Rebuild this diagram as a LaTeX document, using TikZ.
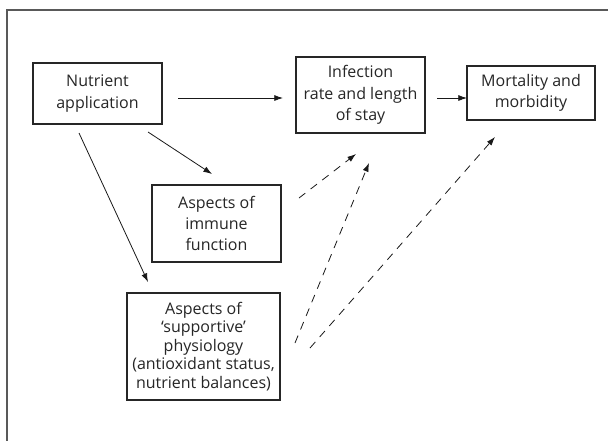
\documentclass[tikz,border=0pt]{standalone}
\usepackage{fontspec}
\setmainfont{Open Sans}
\usetikzlibrary{arrows.meta}
\begin{document}
\begin{tikzpicture}[x=0.75pt,y=-0.75pt,
  box/.style={draw=black!85, line width=0.8pt, rectangle, inner sep=0pt, align=center,
    font=\fontsize{12}{16}\selectfont, text=black!85},
  arr/.style={line width=0.6pt, black!90, -{Latex[length=6.5pt,width=4.5pt]}},
  darr/.style={arr, dash pattern=on 6pt off 5pt}]
\useasboundingbox (0,0) rectangle (608,440);
\clip (0,0) rectangle (608,440);
\fill[white] (0,0) rectangle (608,440);
\draw[line width=1.1pt, black!65] (7,10) rectangle (640,470);
\node[box, minimum width=129*0.75pt, minimum height=61*0.75pt] (nut) at (97.5,93.5) {Nutrient\\application};
\node[box, minimum width=129*0.75pt, minimum height=76*0.75pt] (inf) at (360.5,95) {Infection\\rate and length\\of stay};
\node[box, minimum width=128*0.75pt, minimum height=54*0.75pt] (mor) at (531,93) {Mortality and\\morbidity};
\node[box, minimum width=129*0.75pt, minimum height=77*0.75pt] (imm) at (216.5,223.5) {Aspects of\\immune\\function};
\node[box, minimum width=153*0.75pt, minimum height=107*0.75pt, font=\fontsize{12}{13.8}\selectfont] (sup) at (203.5,346.5) {Aspects of\\‘supportive’\\physiology\\(antioxidant status,\\nutrient balances)};
% connector endpoints
\coordinate (a1) at (178,98); \coordinate (a2) at (283,98);
\coordinate (b1) at (437,98); \coordinate (b2) at (467,98);
\coordinate (c1) at (148,132); \coordinate (c2) at (212,174);
\coordinate (d1) at (79,133); \coordinate (d2) at (148,282);
\coordinate (e1) at (299,198); \coordinate (e2) at (356,154);
\coordinate (f1) at (295,343); \coordinate (f2) at (369,163);
\coordinate (g1) at (310,348); \coordinate (g2) at (495,137);
\draw[arr] (a1) -- (a2);
\draw[arr] (b1) -- (b2);
\draw[arr] (c1) -- (c2);
\draw[arr] (d1) -- (d2);
\draw[darr] (e1) -- (e2);
\draw[darr] (f1) -- (f2);
\draw[darr] (g1) -- (g2);
\end{tikzpicture}
\end{document}
